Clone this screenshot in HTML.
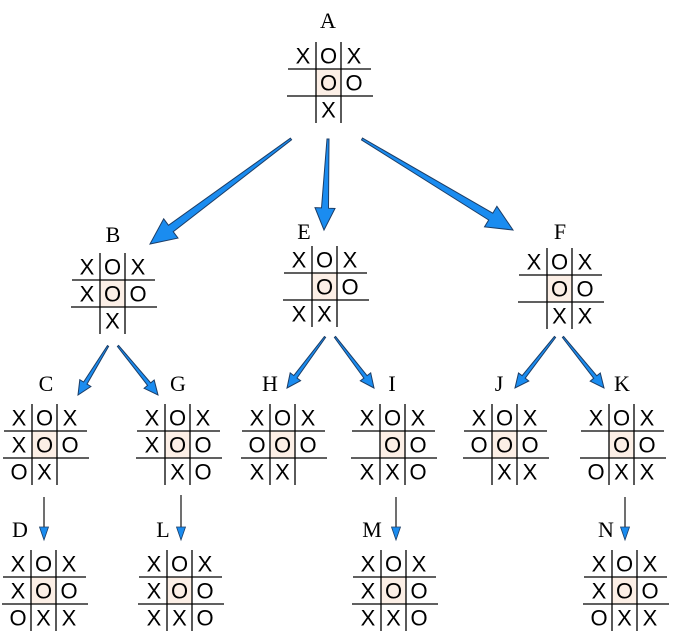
<!DOCTYPE html>
<html><head><meta charset="utf-8"><style>
html,body{margin:0;padding:0;background:#fff;width:674px;height:640px;overflow:hidden}
svg text.c{font-family:"Liberation Sans",sans-serif;font-size:22px;fill:#000;text-anchor:middle}
svg text.l{font-family:"Liberation Serif",serif;font-size:22px;fill:#000;text-anchor:middle}
</style></head><body>
<svg id="s" width="674" height="640" xmlns="http://www.w3.org/2000/svg"></svg>
<script>
const s=document.getElementById('s');let h='';
function board(v1,h1,rows){const cw=25,rh=27,v2=v1+cw,top=h1-rh;
h+=`<rect x="${v1}" y="${h1}" width="${cw}" height="${rh}" fill="#fcefe6"/>`;
h+=`<line x1="${v1}" y1="${top}" x2="${v1}" y2="${top+3*rh}" stroke="#000" stroke-width="1.3"/>`;
h+=`<line x1="${v2}" y1="${top}" x2="${v2}" y2="${top+3*rh}" stroke="#000" stroke-width="1.3"/>`;
h+=`<line x1="${v1-28}" y1="${h1}" x2="${v2+30}" y2="${h1}" stroke="#000" stroke-width="1.3"/>`;
h+=`<line x1="${v1-29}" y1="${h1+rh}" x2="${v2+32}" y2="${h1+rh}" stroke="#000" stroke-width="1.3"/>`;
const xs=[v1-13,v1+cw/2,v2+13];
rows.forEach((r,i)=>{for(let j=0;j<3;j++){if(r[j]!=' ')h+=`<text class="c" x="${xs[j]}" y="${top+i*rh+rh/2+8}">${r[j]}</text>`}});}
function label(t,x,y){h+=`<text class="l" x="${x}" y="${y}">${t}</text>`}
function arrow(sx,sy,ex,ey,hl,hw,tw,bw){const dx=ex-sx,dy=ey-sy,L=Math.hypot(dx,dy),ux=dx/L,uy=dy/L,px=-uy,py=ux;
const bx=ex-ux*hl,by=ey-uy*hl;const p=(x,y,w)=>`${(x+px*w/2).toFixed(1)},${(y+py*w/2).toFixed(1)}`;
const pts=[p(sx,sy,tw),p(bx,by,bw),p(bx,by,hw),`${ex},${ey}`,p(bx,by,-hw),p(bx,by,-bw),p(sx,sy,-tw)];
h+=`<polygon points="${pts.join(' ')}" fill="#1a8cf0" stroke="#1c3d66" stroke-width="1"/>`;}
function darrow(x,y1,y2){h+=`<line x1="${x}" y1="${y1}" x2="${x}" y2="${y2-12}" stroke="#222" stroke-width="1.3"/>`;
h+=`<polygon points="${x-4.5},${y2-13} ${x+4.5},${y2-13} ${x},${y2}" fill="#1a8cf0" stroke="#1c3d66" stroke-width="0.8"/>`;}
label('A',328,28);board(316,69,["XOX"," OO"," X "]);
label('B',113,242);board(100,280,["XOX","XOO"," X "]);
label('E',304,239);board(312,273,["XOX"," OO","XX "]);
label('F',560,239);board(547,275,["XOX"," OO"," XX"]);
label('C',46,391);board(32,431,["XOX","XOO","OX "]);
label('G',178,391);board(165,431,["XOX","XOO"," XO"]);
label('H',270,391);board(270,431,["XOX","OOO","XX "]);
label('I',392,391);board(380,431,["XOX"," OO","XXO"]);
label('J',499,391);board(492,431,["XOX","OOO"," XX"]);
label('K',622,391);board(609,431,["XOX"," OO","OXX"]);
label('D',20,537);board(31,577,["XOX","XOO","OXX"]);
label('L',163,537);board(167,577,["XOX","XOO","XXO"]);
label('M',372,537);board(381,577,["XOX","XOO","XXO"]);
label('N',606,537);board(612,577,["XOX","XOO","OXX"]);
arrow(291,139,150,244,26,24,2,8);
arrow(328,139,324,230,22,20,2,7);
arrow(362,139,513,230,26,24,2,8);
arrow(108,346,78,395,14,13,1.5,4);
arrow(118,346,158,395,14,13,1.5,4);
arrow(325,337,287,388,14,13,1.5,4);
arrow(335,337,374,388,14,13,1.5,4);
arrow(555,337,515,388,14,13,1.5,4);
arrow(563,337,604,388,14,13,1.5,4);
darrow(44,497,540);darrow(181,495,540);darrow(396,497,540);darrow(625,497,540);
s.innerHTML=h;
</script>
</body></html>
